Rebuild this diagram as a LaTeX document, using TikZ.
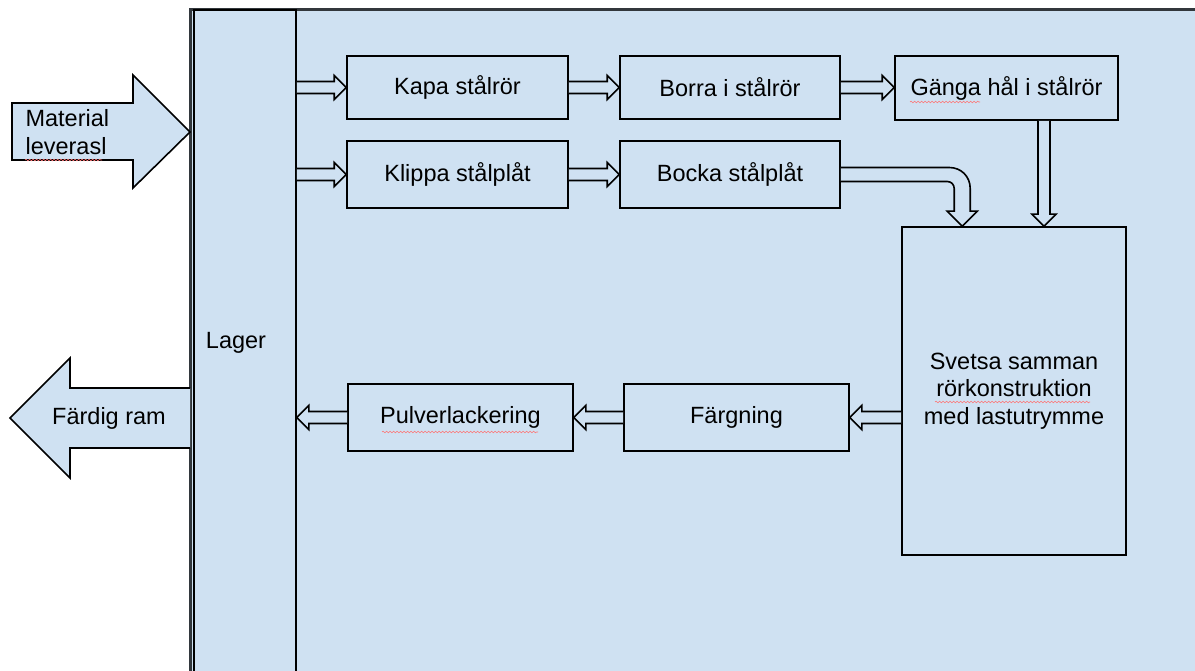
\documentclass[tikz,border=0pt]{standalone}
\usepackage{fontspec}
\setmainfont{Liberation Sans}
\usetikzlibrary{calc,decorations.pathmorphing}
\definecolor{bg}{RGB}{207,225,242}
\definecolor{frame}{RGB}{50,55,60}
\tikzset{
  box/.style={draw=black, line width=1.6pt, fill=bg, inner sep=0pt, align=center},
  harrow/.style={draw=black, line width=1.6pt, fill=bg, line join=miter},
  bigarrow/.style={draw=black, line width=1.6pt, fill=bg, line join=miter},
  txt/.style={font=\fontsize{23.5}{27.5}\selectfont},
  spell/.style={draw=red!55, line width=0.6pt, decorate, decoration={snake, amplitude=0.8pt, segment length=3.5pt}}
}
\newcommand\hollowH[3]{%
  \draw[harrow] ($(#1)+(0,-6)$) -- ($(#2)+(#3,-6)$) -- ($(#2)+(#3,-12)$) -- (#2) -- ($(#2)+(#3,12)$) -- ($(#2)+(#3,6)$) -- ($(#1)+(0,6)$);}
\begin{document}
\begin{tikzpicture}[x=1pt,y=-1pt,txt]
\useasboundingbox (0,0) rectangle (1195,671);
\clip (0,0) rectangle (1195,671);
\fill[white] (0,0) rectangle (1195,671);
% outer frame
\fill[bg] (190,10) rectangle (1210,700);
\draw[frame, line width=3pt] (190,700) -- (190,10) -- (1210,10);
% Lager column
\node[box, minimum width=102pt, minimum height=690pt] (lager) at (245,355) {};
\node[txt] (lagertext) at (236,343) {Lager};
% process boxes
\node[box, txt, minimum width=221pt, minimum height=63pt] (kapa) at (457.5,87.5) {Kapa stålrör};
\node[box, txt, minimum width=220pt, minimum height=63pt] (borra) at (730,87.5) {Borra i stålrör};
\node[box, txt, minimum width=223pt, minimum height=64pt] (ganga) at (1006.5,88) {Gänga hål i stålrör};
\node[box, txt, minimum width=221pt, minimum height=67pt] (klippa) at (457.5,174.5) {Klippa stålplåt};
\node[box, txt, minimum width=220pt, minimum height=67pt] (bocka) at (730,174.5) {Bocka stålplåt};
\node[box, txt, minimum width=224pt, minimum height=328pt] (svetsa) at (1014,391) {Svetsa samman\\rörkonstruktion\\med lastutrymme};
\node[box, txt, minimum width=225pt, minimum height=67pt] (pulver) at (460.5,417.5) {Pulverlackering};
\node[box, txt, minimum width=225pt, minimum height=67pt] (farg) at (736.5,417.5) {Färgning};
% big arrows
\draw[bigarrow] (12,103) -- (133,103) -- (133,75) -- (190,132) -- (133,188) -- (133,160) -- (12,160) -- cycle;
\node[txt, anchor=west, align=left] (material) at (22,132) {Material\\leverasl};
\draw[bigarrow] (190,388) -- (70,388) -- (70,358) -- (10,418) -- (70,478) -- (70,448) -- (190,448);
\node[txt] (fardig) at (109,418) {Färdig ram};
% hollow connectors
\hollowH{lager.east |- kapa.west}{kapa.west}{-12}
\hollowH{kapa.east}{borra.west}{-12}
\hollowH{borra.east}{ganga.west |- borra.east}{-12}
\hollowH{lager.east |- klippa.west}{klippa.west}{-12}
\hollowH{klippa.east}{bocka.west}{-12}
\hollowH{svetsa.west |- farg.east}{farg.east}{12}
\hollowH{farg.west}{pulver.east}{12}
\hollowH{pulver.west}{lager.east |- pulver.west}{12}
% vertical from Gänga
\coordinate (gs) at ($(ganga.south)+(37.5,0)$);
\coordinate (gt) at (gs |- svetsa.north);
\draw[harrow] ($(gs)+(-6,0)$) -- ($(gt)+(-6,-12)$) -- ($(gt)+(-12,-12)$) -- (gt) -- ($(gt)+(12,-12)$) -- ($(gt)+(6,-12)$) -- ($(gs)+(6,0)$);
% curved from Bocka
\coordinate (ctip) at ($(svetsa.north west)+(61,0)$);
\coordinate (cc) at (ctip |- bocka.east);
\draw[harrow] ($(bocka.east)+(0,-7)$) -- ($(cc)+(-13,-7)$) .. controls ($(cc)+(-1,-7)$) and ($(cc)+(8,2)$) .. ($(cc)+(8,14)$) -- ($(ctip)+(8,-15)$) -- ($(ctip)+(15,-15)$) -- (ctip) -- ($(ctip)+(-15,-15)$) -- ($(ctip)+(-8,-15)$) -- ($(cc)+(-8,14)$) .. controls ($(cc)+(-8,10)$) and ($(cc)+(-11,7)$) .. ($(cc)+(-15,7)$) -- ($(bocka.east)+(0,7)$);
% spell-check underlines
\draw[spell] (25,160) -- (102,160);
\draw[spell] (910,102) -- (980,102);
\draw[spell] (382,432) -- (538,432);
\draw[spell] (935,402) -- (1090,402);
\end{tikzpicture}
\end{document}
